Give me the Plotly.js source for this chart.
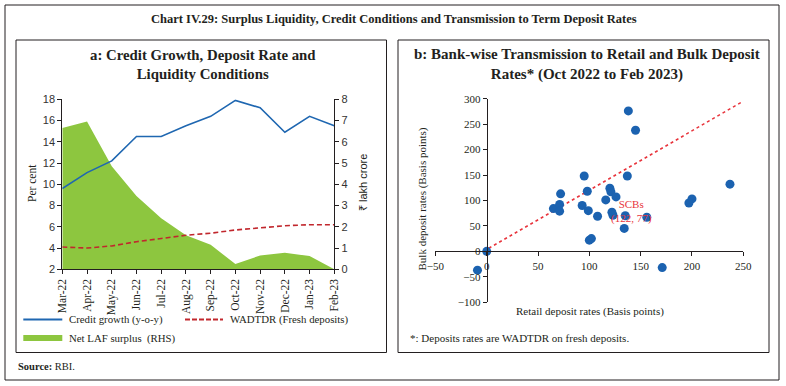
<!DOCTYPE html>
<html>
<head>
<meta charset="utf-8">
<script src="https://cdn.plot.ly/plotly-3.0.1.min.js"></script>
<style>
html,body{margin:0;padding:0;background:#fff;}
#chart{width:786px;height:386px;}
</style>
</head>
<body>
<div id="chart"></div>
<script>
// ---------- Data ----------
const months = ['Mar-22','Apr-22','May-22','Jun-22','Jul-22','Aug-22','Sep-22','Oct-22','Nov-22','Dec-22','Jan-23','Feb-23'];
const creditGrowth = [9.6, 11.1, 12.2, 14.5, 14.5, 15.5, 16.4, 17.9, 17.2, 14.9, 16.4, 15.5];
const wadtdrFresh = [4.1, 4.0, 4.2, 4.6, 4.9, 5.2, 5.4, 5.7, 5.9, 6.1, 6.2, 6.2];
const netLafSurplus = [6.65, 6.95, 4.85, 3.45, 2.4, 1.6, 1.15, 0.25, 0.65, 0.78, 0.62, 0.0];

const retailBps = [0, -9, 138, 145, 95, 137, 237, 72, 98, 120, 121, 126, 116, 200, 197, 65, 71, 71, 93, 99, 108, 122, 123, 135, 156, 134, 100, 102, 171];
const bulkBps   = [0, -37, 276, 238, 148, 148, 132, 113, 118, 124, 117, 107, 101, 103, 95, 84, 92, 79, 90, 80, 69, 77, 71, 70, 67, 45, 22, 25, -32];
const trendX = [2, 250];
const trendY = [6, 295];
const scbLabel = {x: 141, y: 78, text: 'SCBs<br>(122, 77)'};

// ---------- Helpers ----------
const W = 786, H = 386;
const fx = p => p / W;
const fy = p => 1 - p / H;
const SERIF = 'Liberation Serif, Times New Roman, serif';
const SANS = 'Liberation Sans, Arial, sans-serif';
const INK = '#231f20';

// left chart geometry
const aX = [fx(62.3), fx(334.3)];
const aY = [fy(269.3), fy(99.3)];
// right chart geometry
const bX = [fx(435.4), fx(743.3)];
const bY = [fy(302.2), fy(98.7)];
const bXR = [-50, 250], bYR = [-100, 300];
const xAxisPos = bY[0] + (0 - bYR[0]) / (bYR[1] - bYR[0]) * (bY[1] - bY[0]);
const yAxisPos = bX[0] + (0 - bXR[0]) / (bXR[1] - bXR[0]) * (bX[1] - bX[0]);

const traces = [
  {x: months, y: netLafSurplus, type: 'scatter', mode: 'lines', fill: 'tozeroy',
   fillcolor: '#8dc63f', line: {color: '#8dc63f', width: 0}, xaxis: 'x', yaxis: 'y',
   name: 'Net LAF surplus  (RHS)', showlegend: false, hoverinfo: 'skip'},
  {x: months, y: creditGrowth, type: 'scatter', mode: 'lines',
   line: {color: '#1f67b1', width: 1.6}, xaxis: 'x', yaxis: 'y2',
   name: 'Credit growth (y-o-y)', showlegend: false},
  {x: months, y: wadtdrFresh, type: 'scatter', mode: 'lines',
   line: {color: '#c1272d', width: 1.6, dash: '5px,3px'}, xaxis: 'x', yaxis: 'y2',
   name: 'WADTDR (Fresh deposits)', showlegend: false},
  {x: trendX, y: trendY, type: 'scatter', mode: 'lines',
   line: {color: '#e8343c', width: 1.5, dash: '3px,3px'}, xaxis: 'x2', yaxis: 'y3',
   showlegend: false, hoverinfo: 'skip'},
  {x: retailBps, y: bulkBps, type: 'scatter', mode: 'markers',
   marker: {color: '#1b62b0', size: 9}, xaxis: 'x2', yaxis: 'y3',
   name: 'Banks', showlegend: false}
];

const tickFontSans = {family: SANS, size: 11, color: '#333'};
const tickFontSerif = {family: SERIF, size: 11, color: INK};
const xTickFont = {family: SERIF, size: 11.5, color: INK};
const legendFont = {family: SERIF, size: 10.8, color: INK};

const layout = {
  width: W, height: H,
  margin: {l: 0, r: 0, t: 0, b: 0},
  paper_bgcolor: '#fff', plot_bgcolor: 'rgba(0,0,0,0)',
  showlegend: false,
  font: {family: SERIF, color: INK},
  xaxis: {domain: aX, anchor: 'y', type: 'category', range: [0, 11],
    showline: true, linecolor: INK, linewidth: 1, ticks: 'outside', ticklen: 4, tickcolor: INK,
    tickangle: -90, tickfont: xTickFont, showgrid: false, zeroline: false, fixedrange: true},
  yaxis: {domain: aY, anchor: 'x', side: 'right', range: [0, 8], dtick: 1,
    showline: true, linecolor: INK, linewidth: 1, ticks: 'outside', ticklen: 4, tickcolor: INK,
    tickfont: tickFontSans, showgrid: false, zeroline: false, fixedrange: true},
  yaxis2: {domain: aY, anchor: 'x', overlaying: 'y', side: 'left', range: [2, 18], dtick: 2,
    showline: true, linecolor: INK, linewidth: 1, ticks: 'outside', ticklen: 4, tickcolor: INK,
    tickfont: tickFontSans, showgrid: false, zeroline: false, fixedrange: true},
  xaxis2: {domain: bX, anchor: 'free', position: xAxisPos, range: bXR, dtick: 50,
    showline: true, linecolor: INK, linewidth: 1, ticks: 'outside', ticklen: 4, tickcolor: INK,
    tickfont: tickFontSerif, showgrid: false, zeroline: false, fixedrange: true},
  yaxis3: {domain: bY, anchor: 'free', position: yAxisPos, range: bYR, dtick: 50,
    showline: true, linecolor: INK, linewidth: 1, ticks: 'outside', ticklen: 4, tickcolor: INK,
    tickfont: tickFontSerif, showgrid: false, zeroline: false, fixedrange: true},
  shapes: [
    // frames
    {type: 'rect', xref: 'paper', yref: 'paper', x0: fx(5), x1: fx(779), y0: fy(380), y1: fy(5), line: {color: INK, width: 1}},
    {type: 'rect', xref: 'paper', yref: 'paper', x0: fx(16), x1: fx(386.5), y0: fy(352.5), y1: fy(40), line: {color: INK, width: 1}},
    {type: 'rect', xref: 'paper', yref: 'paper', x0: fx(398), x1: fx(769), y0: fy(352.5), y1: fy(40), line: {color: INK, width: 1}},
    // legend keys
    {type: 'line', xref: 'paper', yref: 'paper', x0: fx(23.3), x1: fx(62.3), y0: fy(319.5), y1: fy(319.5), line: {color: '#1f67b1', width: 2}},
    {type: 'line', xref: 'paper', yref: 'paper', x0: fx(185), x1: fx(223), y0: fy(319.5), y1: fy(319.5), line: {color: '#c1272d', width: 2, dash: '5px,2px'}},
    {type: 'rect', xref: 'paper', yref: 'paper', x0: fx(23.3), x1: fx(62.3), y0: fy(341), y1: fy(335), fillcolor: '#8dc63f', line: {width: 0}}
  ],
  annotations: [
    {xref: 'paper', yref: 'paper', x: fx(393.5), y: fy(19), xanchor: 'center', yanchor: 'middle', showarrow: false,
     text: '<b>Chart IV.29: Surplus Liquidity, Credit Conditions and Transmission to Term Deposit Rates</b>',
     font: {family: SERIF, size: 12.5, color: INK}},
    {xref: 'paper', yref: 'paper', x: fx(202.5), y: fy(64.5), xanchor: 'center', yanchor: 'middle', showarrow: false,
     text: '<b>a: Credit Growth, Deposit Rate and<br>Liquidity Conditions</b>',
     font: {family: SERIF, size: 14.8, color: INK}},
    {xref: 'paper', yref: 'paper', x: fx(586.5), y: fy(64.5), xanchor: 'center', yanchor: 'middle', showarrow: false,
     text: '<b>b: Bank-wise Transmission to Retail and Bulk Deposit<br>Rates* (Oct 2022 to Feb 2023)</b>',
     font: {family: SERIF, size: 15, color: INK}},
    {xref: 'paper', yref: 'paper', x: fx(32), y: fy(183), textangle: -90, xanchor: 'center', yanchor: 'middle', showarrow: false,
     text: 'Per cent', font: {family: SERIF, size: 11.5, color: INK}},
    {xref: 'paper', yref: 'paper', x: fx(363), y: fy(183), textangle: -90, xanchor: 'center', yanchor: 'middle', showarrow: false,
     text: '₹ lakh crore', font: {family: SANS, size: 11, color: INK}},
    {xref: 'paper', yref: 'paper', x: fx(66.7), y: fy(319.5), xanchor: 'left', yanchor: 'middle', showarrow: false,
     text: 'Credit growth (y-o-y)', font: legendFont},
    {xref: 'paper', yref: 'paper', x: fx(228), y: fy(319.5), xanchor: 'left', yanchor: 'middle', showarrow: false,
     text: 'WADTDR (Fresh deposits)', font: legendFont},
    {xref: 'paper', yref: 'paper', x: fx(66.7), y: fy(338), xanchor: 'left', yanchor: 'middle', showarrow: false,
     text: 'Net LAF surplus  (RHS)', font: legendFont},
    {xref: 'paper', yref: 'paper', x: fx(421.5), y: fy(199), textangle: -90, xanchor: 'center', yanchor: 'middle', showarrow: false,
     text: 'Bulk deposit rates (Basis points)', font: {family: SERIF, size: 11, color: INK}},
    {xref: 'paper', yref: 'paper', x: fx(590), y: fy(311), xanchor: 'center', yanchor: 'middle', showarrow: false,
     text: 'Retail deposit rates (Basis points)', font: {family: SERIF, size: 11, color: INK}},
    {xref: 'paper', yref: 'paper', x: fx(408), y: fy(338), xanchor: 'left', yanchor: 'middle', showarrow: false,
     text: '*: Deposits rates are WADTDR on fresh deposits.', font: {family: SERIF, size: 11, color: INK}},
    {xref: 'paper', yref: 'paper', x: fx(16), y: fy(366.5), xanchor: 'left', yanchor: 'middle', showarrow: false,
     text: '<b>Source:</b> RBI.', font: {family: SERIF, size: 10.5, color: INK}},
    {xref: 'x2', yref: 'y3', x: scbLabel.x, y: scbLabel.y, xanchor: 'center', yanchor: 'middle', showarrow: false,
     text: scbLabel.text, font: {family: SERIF, size: 11, color: '#e8343c'}}
  ]
};

Plotly.newPlot('chart', traces, layout, {staticPlot: true, displayModeBar: false});
</script>
</body>
</html>
